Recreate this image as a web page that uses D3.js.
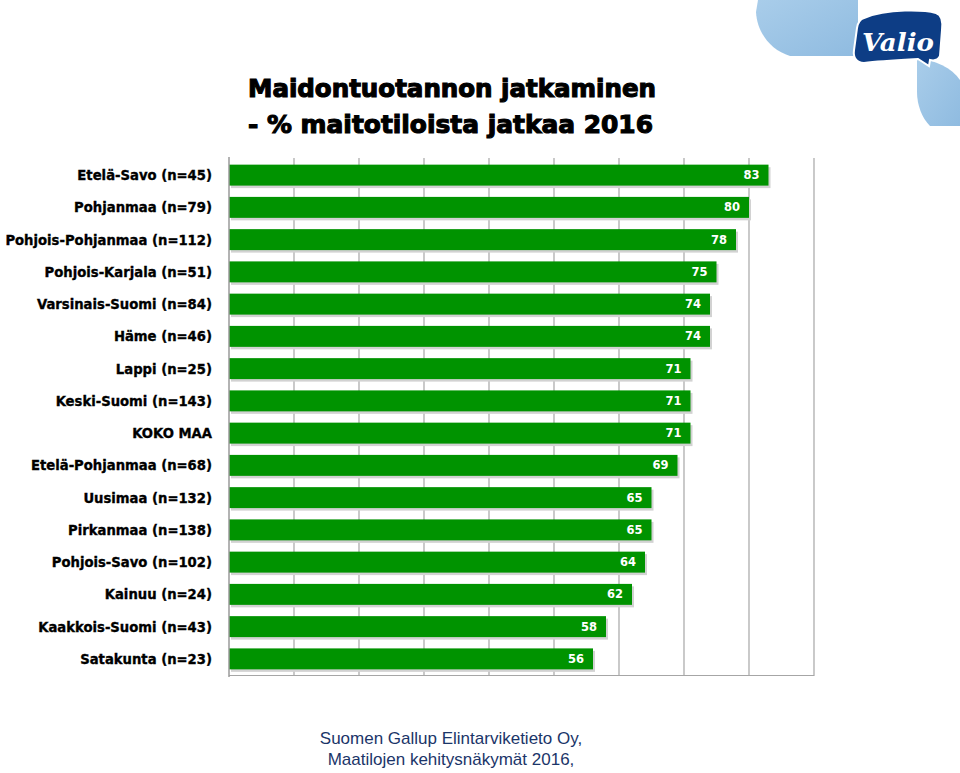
<!DOCTYPE html>
<html>
<head>
<meta charset="utf-8">
<script src="https://cdn.jsdelivr.net/npm/d3@7"></script>
<style>
html,body{margin:0;padding:0;background:#fff;overflow:hidden;}
svg{display:block;}
</style>
</head>
<body>
<svg id="chart" width="960" height="773"></svg>
<script>
const categories = [
  "Etelä-Savo (n=45)",
  "Pohjanmaa (n=79)",
  "Pohjois-Pohjanmaa (n=112)",
  "Pohjois-Karjala (n=51)",
  "Varsinais-Suomi (n=84)",
  "Häme (n=46)",
  "Lappi (n=25)",
  "Keski-Suomi (n=143)",
  "KOKO MAA",
  "Etelä-Pohjanmaa (n=68)",
  "Uusimaa (n=132)",
  "Pirkanmaa (n=138)",
  "Pohjois-Savo (n=102)",
  "Kainuu (n=24)",
  "Kaakkois-Suomi (n=43)",
  "Satakunta (n=23)"
];
const values = [83, 80, 78, 75, 74, 74, 71, 71, 71, 69, 65, 65, 64, 62, 58, 56];
const gridTicks = [0, 10, 20, 30, 40, 50, 60, 70, 80, 90];
const titleLines = ["Maidontuotannon jatkaminen", "- % maitotiloista jatkaa 2016"];
const footerLines = ["Suomen Gallup Elintarviketieto Oy,", "Maatilojen kehitysnäkymät 2016,", "kesäkuu 2016"];

const svg = d3.select("#chart");

// Logo decoration (top right)
const logo = svg.append("g");
const grad = svg.append("defs").append("linearGradient").attr("id","lg").attr("x1","0").attr("y1","0").attr("x2","1").attr("y2","1");
grad.append("stop").attr("offset","0").attr("stop-color","#a9cdea");
grad.append("stop").attr("offset","1").attr("stop-color","#8fbbe0");
logo.append("path")
  .attr("d","M758,0 L858,0 L858,56 L790,56 C770,50 757,32 756,12 Z")
  .attr("fill","url(#lg)");
logo.append("path")
  .attr("d","M917,58 C935,60 952,68 960,80 L960,126 L930,126 C922,118 917,105 917,92 Z")
  .attr("fill","url(#lg)");
logo.append("path")
  .attr("d","M864,18 C888,8 925,10 936,13 C942,15 943,22 942,30 L940,56 C938,60 934,61 930,60 L929,66 L918,59 C900,60 880,61 864,63 C856,63 853,57 854,50 L857,28 C858,22 860,19 864,18 Z")
  .attr("fill","#0d3d85").attr("stroke","#ffffff").attr("stroke-width",2);
logo.append("text")
  .attr("x", 898).attr("y", 51)
  .attr("text-anchor","middle")
  .attr("font-family","DejaVu Serif, serif")
  .attr("font-style","italic").attr("font-weight","bold")
  .attr("font-size", 24).attr("fill","#ffffff")
  .attr("textLength", 72).attr("lengthAdjust","spacingAndGlyphs")
  .text("Valio");

// Title
const titleFont = "'DejaVu Sans', Verdana, sans-serif";
const titleTargets = [408, 405];
titleLines.forEach((t, i) => {
  svg.append("text")
    .attr("x", 248).attr("y", 97 + i * 36)
    .attr("font-family", titleFont)
    .attr("font-weight", "bold")
    .attr("font-size", 24)
    .attr("fill", "#000")
    .attr("stroke", "#000").attr("stroke-width", 1.1)
    .attr("textLength", titleTargets[i]).attr("lengthAdjust", "spacingAndGlyphs")
    .text(t);
});

// Scales
const x = d3.scaleLinear().domain([0, 90]).range([229, 814]);
const y = d3.scaleBand().domain(categories).range([159, 675]).paddingInner(0.35).paddingOuter(0.175);

// Grid lines
svg.append("g").selectAll("line").data(gridTicks.slice(1)).join("line")
  .attr("x1", d => x(d)).attr("x2", d => x(d))
  .attr("y1", 158).attr("y2", 676)
  .attr("stroke", "#a6a6a6").attr("stroke-width", 1.2);
svg.append("line").attr("x1", x(0)).attr("x2", x(90)).attr("y1", 675.5).attr("y2", 675.5)
  .attr("stroke", "#a6a6a6").attr("stroke-width", 1.2);

// Bars shadow
svg.append("g").selectAll("rect").data(values).join("rect")
  .attr("x", x(0) + 2)
  .attr("y", (d, i) => y(categories[i]) + 2.5)
  .attr("width", d => x(d) - x(0))
  .attr("height", y.bandwidth())
  .attr("fill", "#d2d2d2");
// Bars
svg.append("g").selectAll("rect").data(values).join("rect")
  .attr("x", x(0))
  .attr("y", (d, i) => y(categories[i]))
  .attr("width", d => x(d) - x(0))
  .attr("height", y.bandwidth())
  .attr("fill", "#009300");

// Left axis line
svg.append("line").attr("x1", x(0)).attr("x2", x(0)).attr("y1", 157).attr("y2", 677)
  .attr("stroke", "#9a9a9a").attr("stroke-width", 1.5);

// Value labels
svg.append("g").selectAll("text").data(values).join("text")
  .attr("x", d => x(d) - 9)
  .attr("y", (d, i) => y(categories[i]) + y.bandwidth() / 2 + 4)
  .attr("text-anchor", "end")
  .attr("font-family", titleFont)
  .attr("font-weight", "bold")
  .attr("font-size", 11.5)
  .attr("fill", "#ffffff")
  .text(d => d);

// Category labels
svg.append("g").selectAll("text").data(categories).join("text")
  .attr("x", 212)
  .attr("y", d => y(d) + y.bandwidth() / 2 + 5)
  .attr("text-anchor", "end")
  .attr("font-family", titleFont)
  .attr("font-weight", "bold")
  .attr("font-size", 13.2)
  .attr("fill", "#000")
  .attr("stroke", "#000").attr("stroke-width", 0.35)
  .text(d => d);

// Footer
footerLines.forEach((t, i) => {
  svg.append("text")
    .attr("x", 451).attr("y", 744 + i * 21)
    .attr("text-anchor", "middle")
    .attr("font-family", "'Liberation Sans', Arial, sans-serif")
    .attr("font-size", 17)
    .attr("fill", "#1b3569")
    .text(t);
});
</script>
</body>
</html>
